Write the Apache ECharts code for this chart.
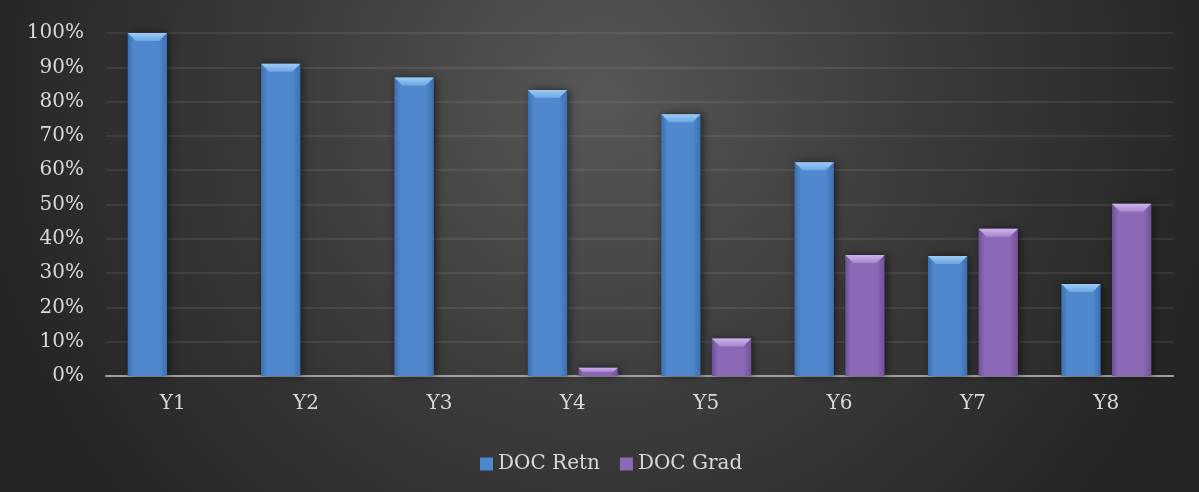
<!DOCTYPE html>
<html>
<head>
<meta charset="utf-8">
<script src="https://cdn.jsdelivr.net/npm/echarts@6/dist/echarts.min.js"></script>
<style>
  html, body { margin: 0; padding: 0; }
  #chart {
    width: 1199px;
    height: 492px;
    background: radial-gradient(circle at 50% 20%, #575757 0px, #3b3b3b 320px, #242424 640px);
  }
</style>
</head>
<body>
<div id="chart"></div>
<script>
const categories = ["Y1", "Y2", "Y3", "Y4", "Y5", "Y6", "Y7", "Y8"];
const docRetn = [100, 91, 87, 83.4, 76.3, 62.3, 35.0, 26.8];
const docGrad = [0, 0, 0, 2.4, 10.9, 35.3, 42.9, 50.2];

const blue = { main: "#4f88cc", edge: "#3c6fae", top: "#9ccbf6", topLow: "#6ea6e2" };
const purple = { main: "#8b69b6", edge: "#6f5196", top: "#cdb2ee", topLow: "#a486cc" };

// bar with a chamfered top, like the excel bevel
const bevelBar = (offset, pal) => (params, api) => {
  const val = api.value(1);
  if (!val) return null;
  const band = api.size([1, 0])[0];
  const w = band * 0.295;
  const top = api.coord([api.value(0), val]);
  const base = api.coord([api.value(0), 0]);
  const x = top[0] + band * offset - w / 2;
  const y = top[1];
  const h = base[1] - top[1];
  const b = Math.min(8, h / 2);
  return {
    type: "group",
    children: [
      {
        type: "rect",
        shape: { x: x, y: y, width: w, height: h },
        style: {
          fill: new echarts.graphic.LinearGradient(0, 0, 1, 0, [
            { offset: 0, color: pal.edge },
            { offset: 0.15, color: pal.main },
            { offset: 0.8, color: pal.main },
            { offset: 1, color: pal.edge }
          ]),
          shadowBlur: 8,
          shadowOffsetX: 2,
          shadowColor: "rgba(0,0,0,0.55)"
        }
      },
      {
        type: "polygon",
        shape: { points: [[x, y], [x + w, y], [x + w - b, y + b], [x + b, y + b]] },
        style: {
          fill: new echarts.graphic.LinearGradient(0, 0, 0, 1, [
            { offset: 0, color: pal.top },
            { offset: 1, color: pal.topLow }
          ])
        }
      }
    ]
  };
};

const myChart = echarts.init(document.getElementById("chart"));

const textColor = "#d9d9d9";
const font = "DejaVu Serif";

const option = {
  backgroundColor: "transparent",
  grid: { left: 106, right: 26, top: 33, bottom: 116 },
  legend: {
    left: 475,
    top: 449,
    itemWidth: 13,
    itemHeight: 13,
    itemGap: 20,
    icon: "rect",
    textStyle: { color: textColor, fontFamily: font, fontSize: 20 },
    data: ["DOC Retn", "DOC Grad"]
  },
  xAxis: {
    type: "category",
    data: categories,
    axisTick: { show: false },
    axisLine: { lineStyle: { color: "#a0a0a0", width: 2 } },
    axisLabel: { color: textColor, fontFamily: font, fontSize: 20, margin: 18 }
  },
  yAxis: {
    type: "value",
    min: 0,
    max: 100,
    interval: 10,
    axisLabel: { color: textColor, fontFamily: font, fontSize: 20, margin: 22, formatter: "{value}%" },
    splitLine: { lineStyle: { color: "rgba(255,255,255,0.1)", width: 1.5 } }
  },
  series: [
    {
      name: "DOC Retn",
      type: "custom",
      renderItem: bevelBar(-0.19, blue),
      itemStyle: { color: blue.main },
      encode: { x: 0, y: 1 },
      data: docRetn.map((v, i) => [i, v]),
      z: 3
    },
    {
      name: "DOC Grad",
      type: "custom",
      renderItem: bevelBar(0.19, purple),
      itemStyle: { color: purple.main },
      encode: { x: 0, y: 1 },
      data: docGrad.map((v, i) => [i, v]),
      z: 3
    }
  ]
};

myChart.setOption(option);

window.addEventListener("resize", () => myChart.resize());
</script>
</body>
</html>
